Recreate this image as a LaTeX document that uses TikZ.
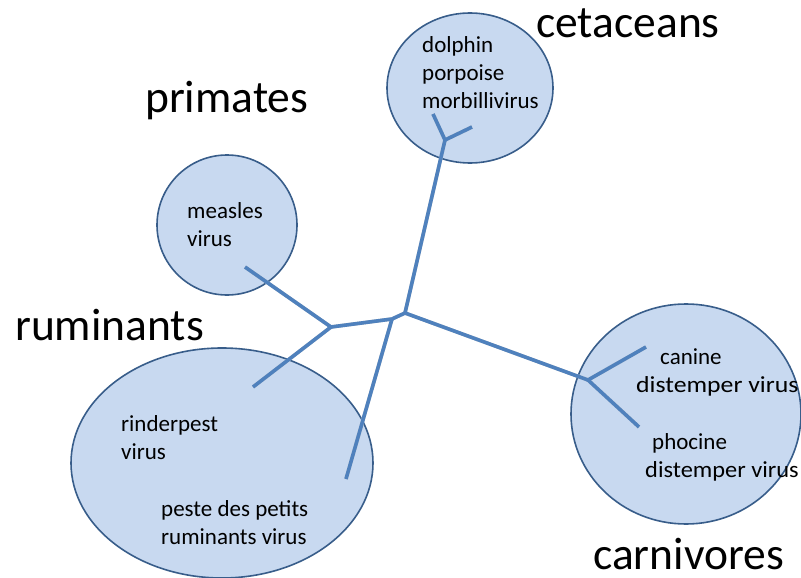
\documentclass[tikz,border=0pt]{standalone}
\usepackage{fontspec}
\setmainfont{Carlito}
\usetikzlibrary{shapes.geometric}
\definecolor{fillblue}{RGB}{200,217,240}
\definecolor{edgeblue}{RGB}{56,93,138}
\definecolor{treeblue}{RGB}{79,129,189}
\begin{document}
\begin{tikzpicture}[x=1pt,y=-1pt,
  group/.style={ellipse, draw=edgeblue, line width=1.6pt, fill=fillblue, inner sep=0pt},
  branch/.style={draw=treeblue, line width=3.6pt},
  shade/.style={draw=black!22, line width=3.6pt},
  big/.style={font=\fontsize{45.5}{52}\selectfont, anchor=base west, inner sep=0pt},
  small/.style={font=\fontsize{23}{27.5}\selectfont, align=left, anchor=base west, inner sep=0pt}]
\useasboundingbox (0,0) rectangle (801,578);
% groups
\node[group, minimum width=166pt, minimum height=150pt] (cet) at (470,88) {};
\node[group, minimum width=140pt, minimum height=140pt] (pri) at (227,225) {};
\node[group, minimum width=302pt, minimum height=230pt] (rum) at (222,463) {};
\node[group, minimum width=230pt, minimum height=220pt] (car) at (686,414) {};
% tree coordinates
\coordinate (B) at (331,327);
\coordinate (P) at (392,319);
\coordinate (A) at (405,313);
\coordinate (C) at (445,140);
\coordinate (D) at (588,380);
\coordinate (lmea) at (245,267);
\coordinate (lrin) at (253,387);
\coordinate (lpes) at (346,479);
\coordinate (ldol) at (433,114);
\coordinate (lpor) at (472,127);
\coordinate (lcan) at (646,347);
\coordinate (lpho) at (639,427);
% shadow
\begin{scope}[shift={(1.5,2)}]
\draw[shade] (lmea) -- (B) -- (lrin);
\draw[shade] (B) -- (P) -- (A);
\draw[shade] (P) -- (lpes);
\draw[shade] (A) -- (C);
\draw[shade] (ldol) -- (C) -- (lpor);
\draw[shade] (A) -- (D);
\draw[shade] (lcan) -- (D) -- (lpho);
\end{scope}
% branches
\draw[branch] (lmea) -- (B) -- (lrin);
\draw[branch] (B) -- (P) -- (A);
\draw[branch] (P) -- (lpes);
\draw[branch] (A) -- (C);
\draw[branch] (ldol) -- (C) -- (lpor);
\draw[branch] (A) -- (D);
\draw[branch] (lcan) -- (D) -- (lpho);
% group labels
\node[big] (tcet) at (536,38) {cetaceans};
\node[big] (tpri) at (145,113) {primates};
\node[big] (trum) at (15,340) {ruminants};
\node[big] (tcar) at (593,569) {carnivores};
% leaf labels (anchor = baseline of last line)
\node[small] (tdol) at (422,108) {dolphin\\porpoise\\morbillivirus};
\node[small] (tmea) at (187,246) {measles\\virus};
\node[small] (trin) at (121,459) {rinderpest\\virus};
\node[small] (tpes) at (161,544) {peste des petits\\ruminants virus};
\node[small] (tcan) at (636,392) {\hspace*{24pt}canine\\\scalebox{1.12}[1]{distemper virus}};
\node[small] (tpho) at (645,477) {\hspace*{7pt}phocine\\\scalebox{1.06}[1]{distemper virus}};
\end{tikzpicture}
\end{document}
